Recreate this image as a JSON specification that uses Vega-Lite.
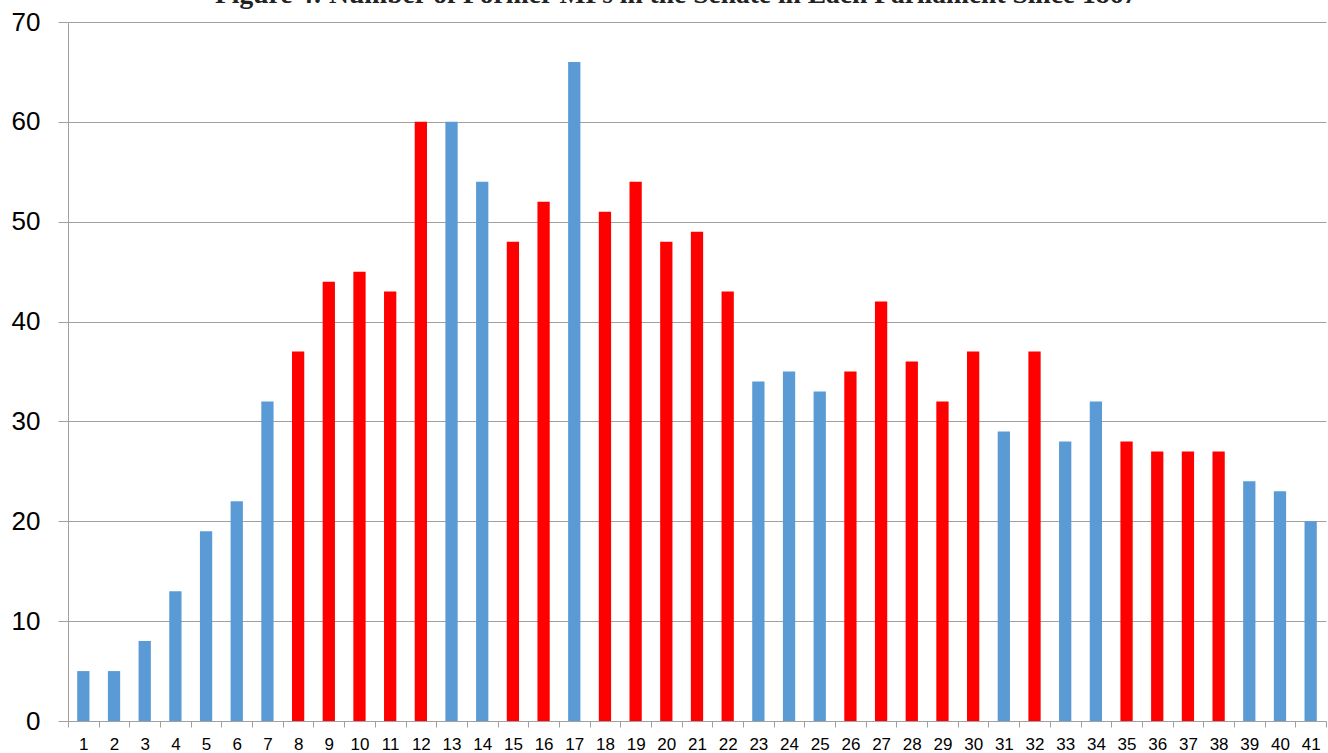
{
  "$schema": "https://vega.github.io/schema/vega-lite/v6.json",
  "width": 1258,
  "height": 699,
  "autosize": {"type": "none"},
  "padding": {"left": 68, "top": 22, "right": 2, "bottom": 32},
  "background": "white",
  "title": {
    "text": "Figure 4: Number of Former MPs in the Senate in Each Parliament Since 1867",
    "font": "Liberation Serif",
    "fontSize": 27.5,
    "fontWeight": "bold",
    "color": "#222222",
    "anchor": "middle",
    "frame": "group",
    "baseline": "alphabetic",
    "offset": 0,
    "dy": 21.5,
    "dx": -21
  },
  "config": {"view": {"stroke": null}},
  "data": {
    "values": [
      {"parliament": "1", "formerMPs": 5, "party": "blue"},
      {"parliament": "2", "formerMPs": 5, "party": "blue"},
      {"parliament": "3", "formerMPs": 8, "party": "blue"},
      {"parliament": "4", "formerMPs": 13, "party": "blue"},
      {"parliament": "5", "formerMPs": 19, "party": "blue"},
      {"parliament": "6", "formerMPs": 22, "party": "blue"},
      {"parliament": "7", "formerMPs": 32, "party": "blue"},
      {"parliament": "8", "formerMPs": 37, "party": "red"},
      {"parliament": "9", "formerMPs": 44, "party": "red"},
      {"parliament": "10", "formerMPs": 45, "party": "red"},
      {"parliament": "11", "formerMPs": 43, "party": "red"},
      {"parliament": "12", "formerMPs": 60, "party": "red"},
      {"parliament": "13", "formerMPs": 60, "party": "blue"},
      {"parliament": "14", "formerMPs": 54, "party": "blue"},
      {"parliament": "15", "formerMPs": 48, "party": "red"},
      {"parliament": "16", "formerMPs": 52, "party": "red"},
      {"parliament": "17", "formerMPs": 66, "party": "blue"},
      {"parliament": "18", "formerMPs": 51, "party": "red"},
      {"parliament": "19", "formerMPs": 54, "party": "red"},
      {"parliament": "20", "formerMPs": 48, "party": "red"},
      {"parliament": "21", "formerMPs": 49, "party": "red"},
      {"parliament": "22", "formerMPs": 43, "party": "red"},
      {"parliament": "23", "formerMPs": 34, "party": "blue"},
      {"parliament": "24", "formerMPs": 35, "party": "blue"},
      {"parliament": "25", "formerMPs": 33, "party": "blue"},
      {"parliament": "26", "formerMPs": 35, "party": "red"},
      {"parliament": "27", "formerMPs": 42, "party": "red"},
      {"parliament": "28", "formerMPs": 36, "party": "red"},
      {"parliament": "29", "formerMPs": 32, "party": "red"},
      {"parliament": "30", "formerMPs": 37, "party": "red"},
      {"parliament": "31", "formerMPs": 29, "party": "blue"},
      {"parliament": "32", "formerMPs": 37, "party": "red"},
      {"parliament": "33", "formerMPs": 28, "party": "blue"},
      {"parliament": "34", "formerMPs": 32, "party": "blue"},
      {"parliament": "35", "formerMPs": 28, "party": "red"},
      {"parliament": "36", "formerMPs": 27, "party": "red"},
      {"parliament": "37", "formerMPs": 27, "party": "red"},
      {"parliament": "38", "formerMPs": 27, "party": "red"},
      {"parliament": "39", "formerMPs": 24, "party": "blue"},
      {"parliament": "40", "formerMPs": 23, "party": "blue"},
      {"parliament": "41", "formerMPs": 20, "party": "blue"}
    ]
  },
  "mark": {"type": "bar", "width": {"band": 0.4}},
  "encoding": {
    "x": {
      "field": "parliament",
      "type": "ordinal",
      "sort": null,
      "scale": {"paddingInner": 0, "paddingOuter": 0},
      "axis": {
        "title": null,
        "labelAngle": 0,
        "labelFont": "Liberation Sans",
        "labelFontSize": 17,
        "labelColor": "black",
        "labelPadding": 9,
        "tickBand": "extent",
        "tickSize": 6,
        "tickColor": "#A0A0A0",
        "domainColor": "#A0A0A0",
        "grid": false
      }
    },
    "y": {
      "field": "formerMPs",
      "type": "quantitative",
      "scale": {"domain": [0, 70], "nice": false},
      "axis": {
        "title": null,
        "values": [0, 10, 20, 30, 40, 50, 60, 70],
        "labelFont": "Liberation Sans",
        "labelFontSize": 26,
        "labelColor": "black",
        "labelPadding": 18,
        "tickSize": 10,
        "tickColor": "#A0A0A0",
        "domainColor": "#A0A0A0",
        "gridColor": "#A0A0A0",
        "gridOpacity": 1,
        "grid": true
      }
    },
    "color": {
      "field": "party",
      "type": "nominal",
      "scale": {"domain": ["blue", "red"], "range": ["#5B9BD5", "#FF0000"]},
      "legend": null
    }
  }
}
